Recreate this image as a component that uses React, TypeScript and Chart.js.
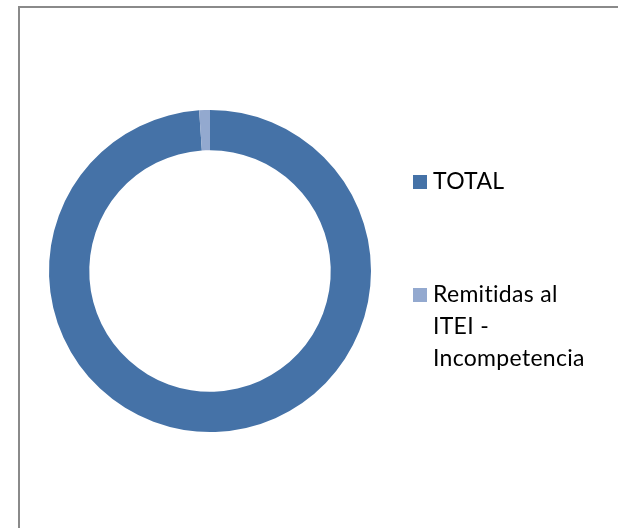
import React, { useEffect, useRef } from "react";
import { Chart, registerables } from "chart.js";

Chart.register(...registerables);

const categories: string[] = ["TOTAL", "Remitidas al ITEI - Incompetencia"];
const values: number[] = [92, 1];
const colors: string[] = ["#4572A7", "#93A9CF"];

const legendFont = "23px Lato, 'Open Sans', sans-serif";

const legendPlugin = {
  id: "sideLegend",
  afterDraw(chart: any) {
    const ctx = chart.ctx as CanvasRenderingContext2D;
    const labels = chart.data.labels as string[];
    const ds = chart.data.datasets[0];
    const itemTops = [182, 295];
    const markerX = 413;
    const textX = 433;
    const lineH = 32;
    const maxW = 168;
    ctx.save();
    ctx.font = legendFont;
    try {
      (ctx as any).letterSpacing = "0.3px";
    } catch (e) {}
    ctx.textBaseline = "middle";
    labels.forEach((label, i) => {
      const cy = itemTops[i];
      ctx.fillStyle = ds.backgroundColor[i];
      ctx.fillRect(markerX, cy - 7, 14, 14);
      const words = label.split(" ");
      const lines: string[] = [];
      let cur = "";
      words.forEach((w) => {
        const t = cur ? cur + " " + w : w;
        if (ctx.measureText(t).width > maxW && cur) {
          lines.push(cur);
          cur = w;
        } else {
          cur = t;
        }
      });
      if (cur) lines.push(cur);
      ctx.fillStyle = "#000000";
      lines.forEach((ln, j) => {
        ctx.fillText(ln, textX, cy + j * lineH);
      });
    });
    ctx.restore();
  },
};

export default function App() {
  const ref = useRef<HTMLCanvasElement | null>(null);
  useEffect(() => {
    if (!ref.current) return;
    const chart = new Chart(ref.current, {
      type: "doughnut",
      data: {
        labels: categories,
        datasets: [
          {
            data: values,
            backgroundColor: colors,
            borderWidth: 0,
          },
        ],
      },
      options: {
        responsive: false,
        animation: false,
        cutout: "75%",
        layout: { padding: { left: 49, right: 247, top: 110, bottom: 96 } },
        plugins: {
          legend: { display: false },
          tooltip: { enabled: false },
        },
      },
      plugins: [legendPlugin],
    });
    return () => chart.destroy();
  }, []);
  return (
    <div style={{ position: "absolute", left: 0, top: 0, width: 618, height: 528, overflow: "hidden", background: "#ffffff" }}>
      <div
        style={{
          position: "absolute",
          left: 18,
          top: 6,
          width: 640,
          height: 600,
          border: "2px solid #8a8a8a",
          boxSizing: "border-box",
        }}
      />
      <canvas ref={ref} width={618} height={528} style={{ position: "absolute", left: 0, top: 0 }} />
    </div>
  );
}
